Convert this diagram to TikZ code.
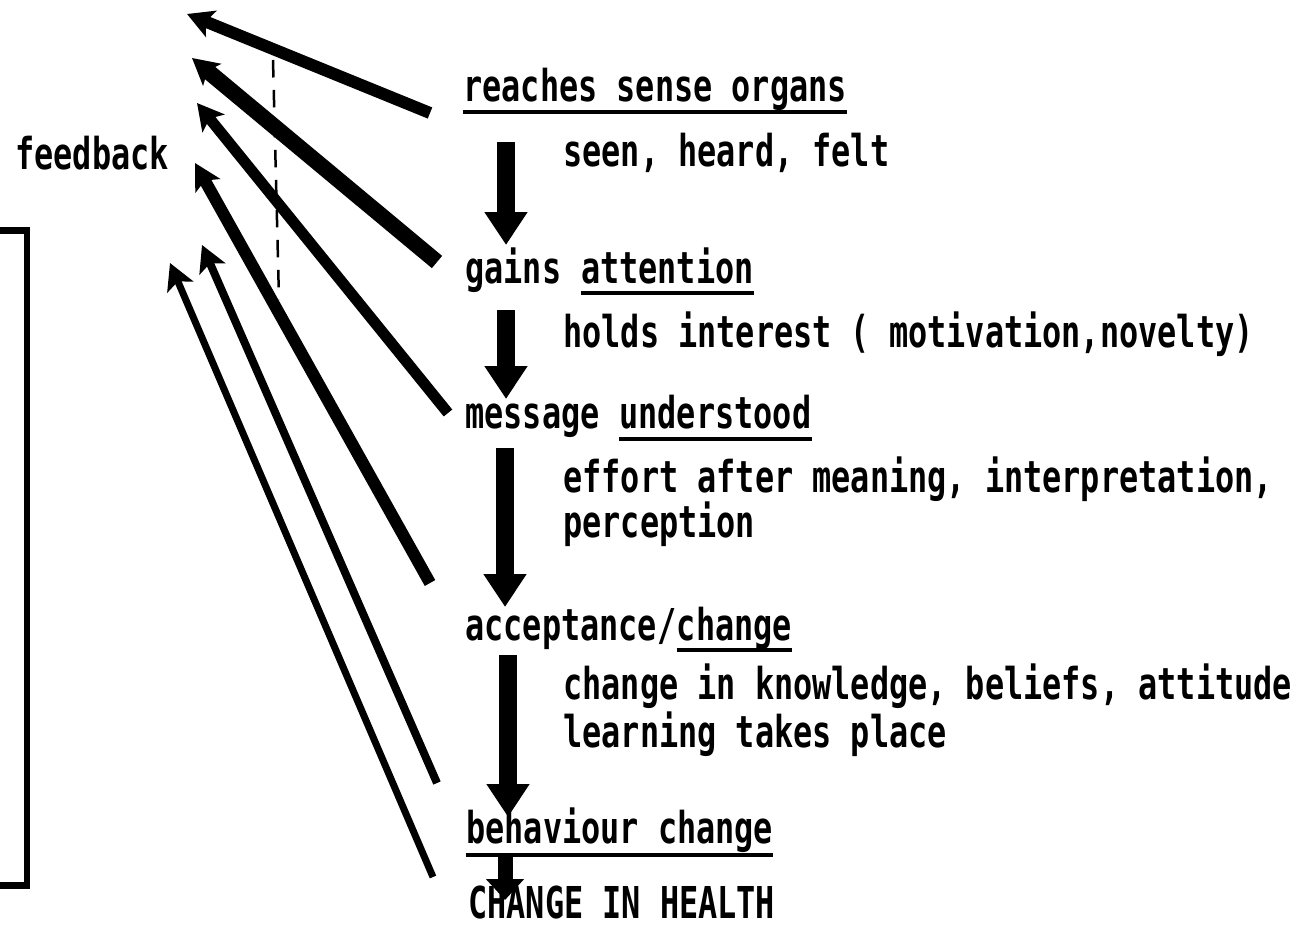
\documentclass[tikz,border=0pt]{standalone}
\usepackage{fontspec}
\newfontfamily\typefont[FakeStretch=0.725]{DejaVu Sans Mono}
\usetikzlibrary{arrows.meta,calc,positioning}
\newcommand\spw{19.2}

\begin{document}
\begin{tikzpicture}[x=0.02cm,y=-0.02cm]
\tikzstyle{txt}=[anchor=base west, inner sep=0pt, font=\typefont\bfseries\fontsize{25pt}{30pt}\selectfont]
\tikzstyle{uline}=[line width=0.08cm]
\tikzstyle{flow}=[line width=0.36cm, -{Triangle[length=0.66cm,width=0.82cm]}]
\tikzstyle{back}=[-{Stealth[length=0.52cm,width=0.56cm,inset=0.12cm]}]
\useasboundingbox (0,0) rectangle (1310,929);
% steps of the message
\node[txt] (sense) at (463,102) {reaches sense organs};
\node[txt] (seen) at (563,167) {seen, heard, felt};
\node[txt] (gains) at (465,283) {gains};
\node[txt] (attn) at ($(gains.base east)+(\spw,0)$) {attention};
\node[txt] (holds) at (563,347) {holds interest ( motivation,novelty)};
\node[txt] (msg) at (465,428) {message};
\node[txt] (und) at ($(msg.base east)+(\spw,0)$) {understood};
\node[txt] (effort) at (563,492) {effort after meaning, interpretation,};
\node[txt] (percep) at (563,537) {perception};
\node[txt] (accept) at (465,640) {acceptance/};
\node[txt] (chg) at (accept.base east) {change};
\node[txt] (know) at (563,699) {change in knowledge, beliefs, attitude};
\node[txt] (learn) at (563,747) {learning takes place};
\node[txt] (behav) at (466,843) {behaviour change};
\node[txt] (health) at (468,918) {CHANGE IN HEALTH};
\node[txt] (feedback) at (15,170) {feedback};
% underlines
\draw[uline] ($(sense.base west)+(0,10)$) -- ($(sense.base east)+(0,10)$);
\draw[uline] ($(attn.base west)+(0,10)$) -- ($(attn.base east)+(0,10)$);
\draw[uline] ($(und.base west)+(0,11)$) -- ($(und.base east)+(0,11)$);
\draw[uline] ($(chg.base west)+(0,10)$) -- ($(chg.base east)+(0,10)$);
\draw[uline] ($(behav.base west)+(0,12)$) -- ($(behav.base east)+(0,12)$);
% downward arrows
\coordinate (d1a) at (506,142); \coordinate (d1b) at (506,245);
\coordinate (d2a) at (506,310); \coordinate (d2b) at (506,399);
\coordinate (d3a) at (505,448); \coordinate (d3b) at (505,607);
\coordinate (d4a) at (508,655); \coordinate (d4b) at (508,817);
\coordinate (d5a) at (505,857); \coordinate (d5b) at (505,900);
\path (d1a) edge [flow] (d1b);
\path (d2a) edge [flow] (d2b);
\path (d3a) edge [flow] (d3b);
\path (d4a) edge [flow] (d4b);
\path (d5a) edge [line width=0.3cm, -{Triangle[length=0.42cm,width=0.74cm]}] (d5b);
% feedback arrows
\coordinate (t1) at (430,113); \coordinate (f1) at (187,14);
\coordinate (t2) at (437,262); \coordinate (f2) at (192,58);
\coordinate (t3) at (448,413); \coordinate (f3) at (197,103);
\coordinate (t4) at (430,583); \coordinate (f4) at (195,163);
\coordinate (t5) at (437,783); \coordinate (f5) at (202,245);
\coordinate (t6) at (433,877); \coordinate (f6) at (170,263);
\path (t1) edge [back, line width=0.24cm] (f1);
\path (t2) edge [back, line width=0.32cm] (f2);
\path (t3) edge [back, line width=0.22cm] (f3);
\path (t4) edge [back, line width=0.24cm] (f4);
\path (t5) edge [back, line width=0.16cm] (f5);
\path (t6) edge [back, line width=0.14cm] (f6);
% dashed guide and bracket
\coordinate (g1) at (273,60); \coordinate (g2) at (279,300);
\draw[line width=0.05cm, dash pattern=on 0.35cm off 0.25cm] (g1) -- (g2);
\draw[line width=0.14cm] (0,230) -- (27,230) -- (27,885) -- (0,885);
\end{tikzpicture}
\end{document}
